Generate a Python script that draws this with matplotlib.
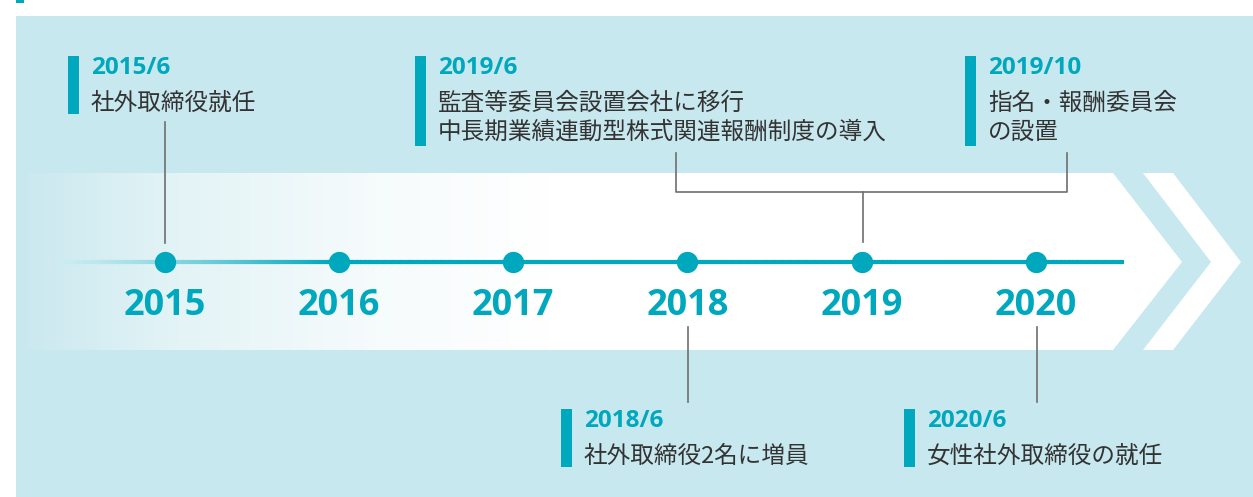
import numpy as np
import matplotlib
matplotlib.use("Agg")
import matplotlib.pyplot as plt
from matplotlib.patches import Polygon, Rectangle
from matplotlib.colors import LinearSegmentedColormap, to_rgb

plt.rcParams['font.family'] = ['Noto Sans CJK JP', 'DejaVu Sans']

# ---- data ----
years = [2015, 2016, 2017, 2018, 2019, 2020]
event_dates = ["2015/6", "2018/6", "2019/6", "2019/10", "2020/6"]
event_texts = [
    "社外取締役就任",
    "社外取締役2名に増員",
    "監査等委員会設置会社に移行\n中長期業績連動型株式関連報酬制度の導入",
    "指名・報酬委員会\nの設置",
    "女性社外取締役の就任",
]

# ---- style / layout ----
W, H = 1253, 497
TEAL = "#00a8bd"
PANEL = "#c8e8ef"
TXT = "#333333"
GRAY = "#6e6e6e"
LINE_Y = 262
X0, STEP = 164.5, 174.3

def yx(y):
    return X0 + (y - years[0]) * STEP

fig = plt.figure(figsize=(W / 100, H / 100), dpi=100)
ax = fig.add_axes([0, 0, 1, 1])
ax.set_xlim(0, W)
ax.set_ylim(H, 0)
ax.axis("off")

# background panel
ax.add_patch(Rectangle((16, 16), W - 16, H - 16, color=PANEL, lw=0, zorder=0))
ax.add_patch(Rectangle((16, 0), 8, 2.5, color=TEAL, lw=0, zorder=0))

# arrow band with gradient
top, bot, mid = 173, 350, 262
arrow = Polygon([(28, top), (1113, top), (1182, mid), (1113, bot), (28, bot)],
                closed=True, facecolor="none", edgecolor="none")
ax.add_patch(arrow)
cmap = LinearSegmentedColormap.from_list(
    "band", [(0.0, "#cbe9ef"), (0.12, "#e2f3f6"), (0.3, "#f6fbfc"), (0.45, "#ffffff"), (1.0, "#ffffff")])
grad = np.linspace(0, 1, 512).reshape(1, -1)
im = ax.imshow(grad, cmap=cmap, extent=[28, 1182, bot, top], aspect="auto", zorder=1,
               interpolation="bilinear")
im.set_clip_path(arrow)
ax.set_xlim(0, W)
ax.set_ylim(H, 0)

# second chevron
ax.add_patch(Polygon([(1143, top), (1173, top), (1241, mid), (1173, bot), (1143, bot), (1211, mid)],
                     closed=True, facecolor="white", edgecolor="none", zorder=1))

# timeline line with fade-in
tr, tg, tb = to_rgb(TEAL)
xs = np.linspace(55, 1123, 400)
for i in range(len(xs) - 1):
    xm = 0.5 * (xs[i] + xs[i + 1])
    a = np.clip((xm - 55) / (330 - 55), 0, 1) ** 1.3
    col = (1 - a) * np.array([0.80, 0.93, 0.95]) + a * np.array([tr, tg, tb])
    ax.plot([xs[i], xs[i + 1] + 0.5], [LINE_Y, LINE_Y], color=col, lw=3.0,
            solid_capstyle="butt", zorder=2)

# dots and year labels
ax.scatter([yx(y) for y in years], [LINE_Y] * len(years), s=235, color=TEAL, zorder=3, lw=0)
for y in years:
    ax.text(yx(y), 306, str(y), color=TEAL, fontsize=26, fontweight="bold",
            family=["Open Sans", "DejaVu Sans"], ha="center", va="center", zorder=4)

# connectors
lw_c = 1.2
ax.plot([yx(2015)] * 2, [122, 243], color=GRAY, lw=lw_c, zorder=2)
ax.plot([yx(2018) + 1] * 2, [327, 402], color=GRAY, lw=lw_c, zorder=2)
ax.plot([yx(2020) + 1] * 2, [327, 402], color=GRAY, lw=lw_c, zorder=2)
# bracket for 2019 events
ax.plot([676, 676, 1067, 1067], [153, 192, 192, 153], color=GRAY, lw=lw_c, zorder=2)
ax.plot([yx(2019) + 1] * 2, [192, 242], color=GRAY, lw=lw_c, zorder=2)

# event labels
label_pos = {  # (bar_x, top_y)
    "2015/6": (68, 56),
    "2018/6": (561, 409),
    "2019/6": (415, 56),
    "2019/10": (965, 56),
    "2020/6": (904, 409),
}
for d, t in zip(event_dates, event_texts):
    bx, ty = label_pos[d]
    nlines = t.count("\n") + 1
    bar_h = 58 if nlines == 1 else 90
    ax.add_patch(Rectangle((bx, ty), 11, bar_h, color=TEAL, lw=0, zorder=3))
    ax.text(bx + 23, ty + 12, d, color=TEAL, fontsize=17.5, fontweight="bold",
            family=["Open Sans", "DejaVu Sans"], ha="left", va="center", zorder=4)
    for k, line in enumerate(t.split("\n")):
        ax.text(bx + 23, ty + 47 + 29 * k, line, color=TXT, fontsize=17,
                ha="left", va="center", zorder=4)

fig.savefig("out.png", dpi=100)
